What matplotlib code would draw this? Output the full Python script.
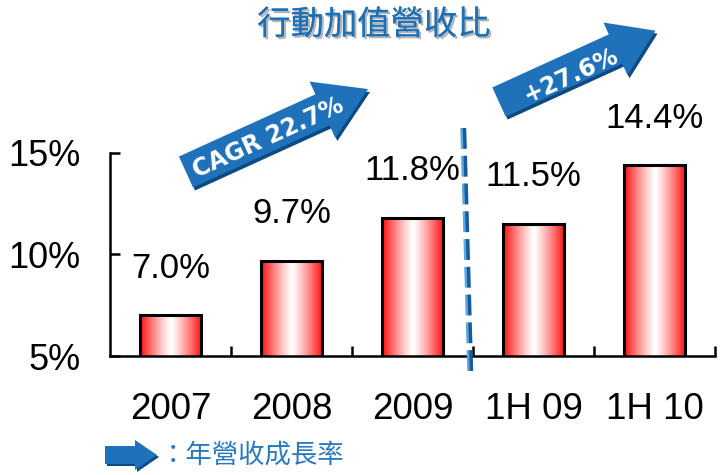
import numpy as np
import matplotlib.pyplot as plt
import matplotlib.patheffects as pe
from matplotlib.patches import Polygon

# data
categories = ['2007', '2008', '2009', '1H 09', '1H 10']
values = [7.0, 9.7, 11.8, 11.5, 14.4]
value_labels = ['7.0%', '9.7%', '11.8%', '11.5%', '14.4%']
y_ticks = [5, 10, 15]
y_tick_labels = ['5%', '10%', '15%']
title = '行動加值營收比'
cagr_text = 'CAGR 22.7%'
half_text = '+27.6%'
legend_text = '：年營收成長率'

BLUE = '#1f72b9'
DARK = '#0b4a82'
num_font = 'Liberation Sans'
cjk_font = ['Noto Sans CJK TC', 'DejaVu Sans']

fig = plt.figure(figsize=(7.23, 4.75), dpi=100)
ax = fig.add_axes([110 / 723, 1 - 356 / 475, 605 / 723, 203 / 475])

x = np.arange(len(categories))
bars = ax.bar(x, values, width=0.51, bottom=0, facecolor='none',
              edgecolor='black', linewidth=2.2, zorder=3)

# red-white-red horizontal gradient inside each bar
t = np.linspace(0, 1, 200)
s = np.abs(2 * t - 1) ** 1.2
grad = np.ones((1, len(t), 3))
grad[0, :, 1] = 1 - 0.95 * s
grad[0, :, 2] = 1 - 0.95 * s
for b in bars:
    x0 = b.get_x()
    im = ax.imshow(grad, extent=[x0, x0 + b.get_width(), 5, b.get_height()],
                   aspect='auto', zorder=2)
    im.set_clip_path(b)

for xi, v, lab in zip(x, values, value_labels):
    ax.annotate(lab, (xi, v), xytext=(0, 22), textcoords='offset points',
                ha='center', va='bottom', fontsize=25, family=num_font)

ax.set_xlim(-0.5, len(categories) - 0.5)
ax.set_ylim(5, 15)
ax.set_yticks(y_ticks)
ax.set_yticklabels(y_tick_labels, fontsize=26, family=num_font)
ax.set_xticks(x)
ax.set_xticklabels(categories, fontsize=26.5, family=num_font)
ax.set_xticks(np.arange(len(categories)) + 0.5, minor=True)
ax.tick_params(axis='x', which='major', length=0, pad=26)
ax.tick_params(axis='x', which='minor', direction='in', length=7, width=1.8)
ax.tick_params(axis='y', direction='in', length=7, width=1.8, pad=21)
for side in ['top', 'right']:
    ax.spines[side].set_visible(False)
for side in ['left', 'bottom']:
    ax.spines[side].set_linewidth(1.8)

# overlay in pixel coordinates for the decorations
ov = fig.add_axes([0, 0, 1, 1], facecolor='none')
ov.set_xlim(0, 723)
ov.set_ylim(475, 0)
ov.axis('off')


def block_arrow(x0, y0, ang, body, head, bw, hw):
    a = np.radians(ang)
    d = np.array([np.cos(a), -np.sin(a)])
    n = np.array([np.sin(a), np.cos(a)])
    p0 = np.array([x0, y0])
    base = p0 + d * body
    tip = base + d * head
    return np.array([p0 - n * bw, base - n * bw, base - n * hw, tip,
                     base + n * hw, base + n * bw, p0 + n * bw])


def draw_arrow(x0, y0, ang, body, head, bw, hw):
    pts = block_arrow(x0, y0, ang, body, head, bw, hw)
    ov.add_patch(Polygon(pts + [2, 3], closed=True, facecolor=DARK, edgecolor='none'))
    ov.add_patch(Polygon(pts, closed=True, facecolor=BLUE, edgecolor='none'))


draw_arrow(186, 172, 24.5, 150, 50, 17, 31)
ov.text(268, 138, cagr_text, rotation=24.5, rotation_mode='anchor', ha='center',
        va='center', color='white', fontsize=17, fontweight='bold', family='DejaVu Sans')

draw_arrow(499, 102, 24.5, 128, 44, 16, 29)
ov.text(571, 76, half_text, rotation=24.5, rotation_mode='anchor', ha='center',
        va='center', color='white', fontsize=17, fontweight='bold', family='DejaVu Sans')

# dashed divider
ov.plot([462, 469], [128, 372], color='#5ea6dc', lw=2.5, dashes=(6, 2), zorder=5)
ov.plot([464.5, 471.5], [128, 372], color='#145c9c', lw=2.5, dashes=(6, 2), zorder=5)

# title with soft shadow
ov.text(374, 25, title, ha='center', va='center', fontsize=24, color='#1d6fb6',
        family=cjk_font,
        path_effects=[pe.withSimplePatchShadow(offset=(1.5, -1.5), shadow_rgbFace='#b5b5b5',
                                               alpha=1), pe.Normal()])

# legend arrow
pts = np.array([[105, 446], [135, 446], [135, 440], [157, 455], [135, 470],
                [135, 464], [105, 464]])
ov.add_patch(Polygon(pts + [2, 2], closed=True, facecolor=DARK, edgecolor='none'))
ov.add_patch(Polygon(pts, closed=True, facecolor=BLUE, edgecolor='none'))
ov.text(160, 455, legend_text, ha='left', va='center', fontsize=19, color='#2a78be',
        family=cjk_font)

fig.savefig('out.png', dpi=100)
